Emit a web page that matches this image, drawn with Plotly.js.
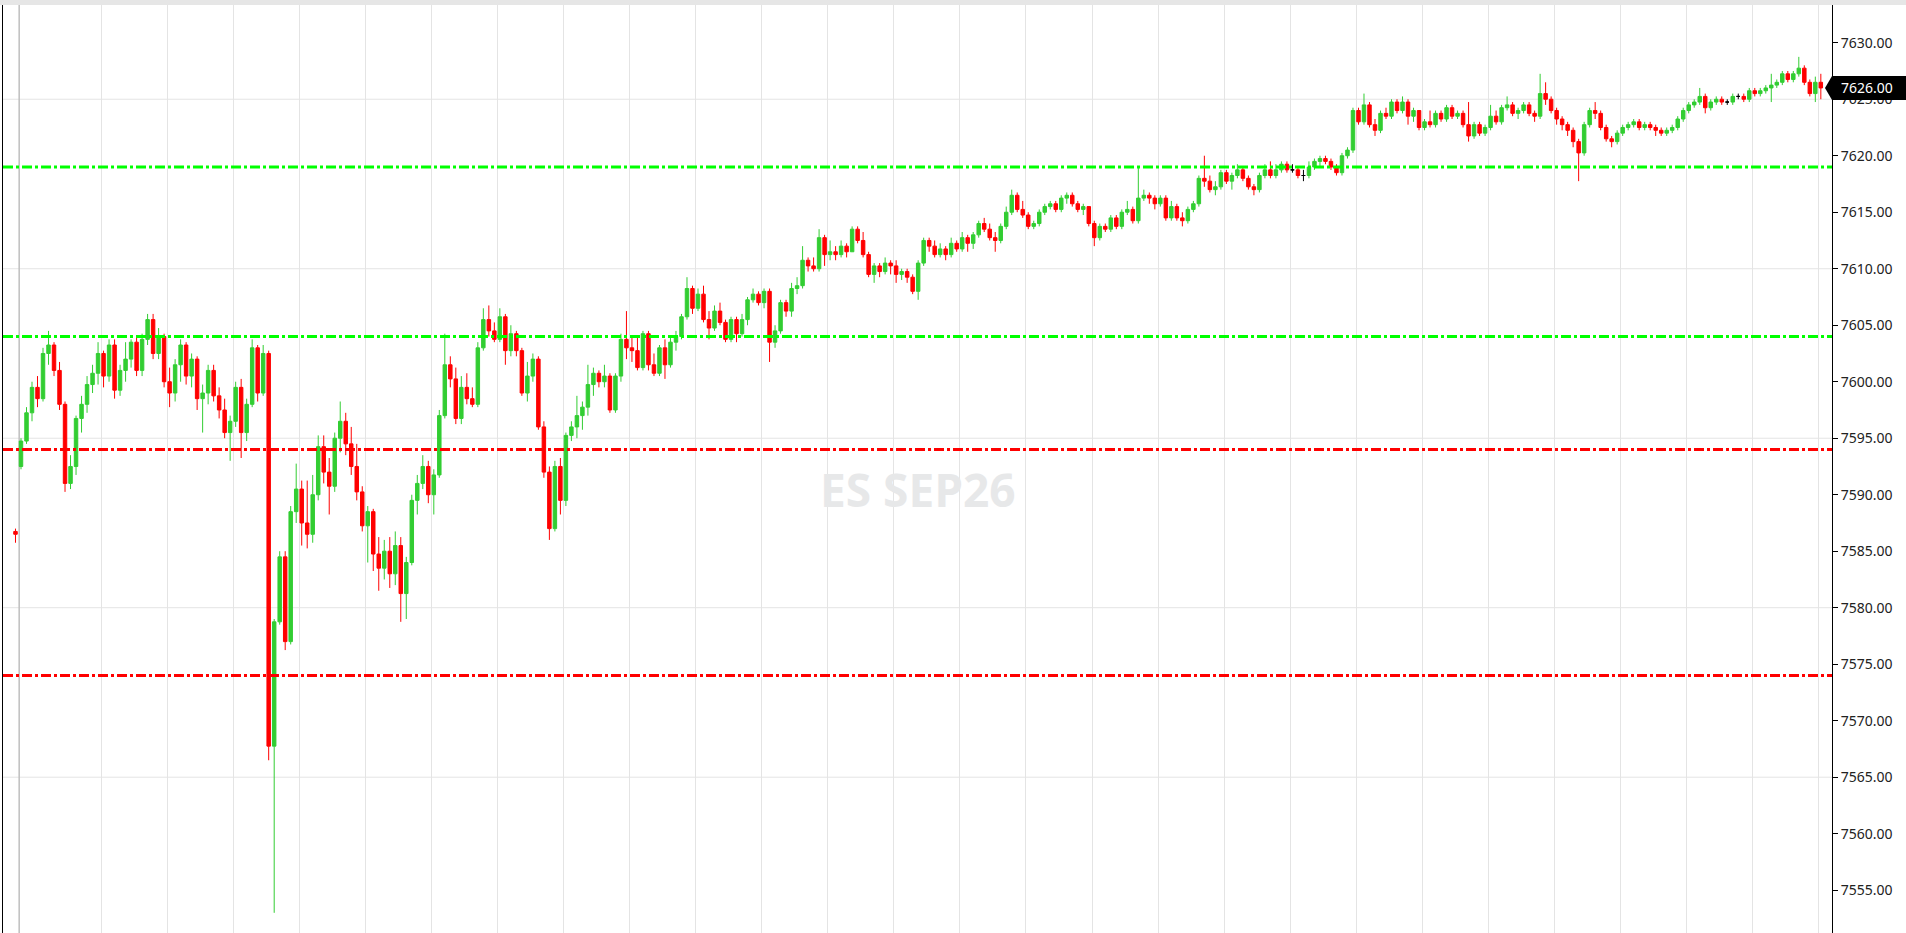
<!DOCTYPE html>
<html><head><meta charset="utf-8">
<script src="https://cdn.plot.ly/plotly-3.0.1.min.js"></script>
<style>
html,body{margin:0;padding:0;overflow:hidden;background:#fff;width:1906px;height:933px;}
#band{position:absolute;left:0;top:0;width:1906px;height:5px;background:#e6e6e6;}
#chart{position:absolute;left:0;top:5px;width:1906px;height:940px;}
</style></head><body>
<div id="band"></div><div id="chart"></div>
<script>
// ES SEP26 intraday candles (first bar = last bar of the prior session)
const symbol = 'ES SEP26';
const opens = [7586.75,
7592.5,7594.75,7597.25,7599.5,7598.5,7602.5,7603.25,7601,7598,7591,
7592.5,7596.75,7598,7599.75,7600.75,7602.5,7600.5,7603.25,7599.25,7601,
7602,7603.5,7601,7603.75,7605.5,7602.5,7604,7600,7599,7601.5,
7603.25,7600.5,7602,7598.5,7599,7601,7598.75,7597.5,7595.5,7596.5,
7599.5,7595.5,7598,7603,7599,7602.5,7567.75,7578.75,7584.5,7577,
7588.5,7590.5,7587.5,7586.5,7590,7594.25,7592,7590.75,7595,7596.5,
7594.5,7592.5,7590.25,7587.25,7588.5,7584.75,7583.5,7585,7583,7585.5,
7581.25,7584,7589.5,7591,7592.5,7590,7591.75,7597,7601.5,7600.25,
7596.75,7599.5,7598.5,7598,7603,7605.5,7604.5,7603.75,7605.75,7602.75,
7604.25,7602.75,7599,7600.5,7602,7596,7592,7587,7592.5,7589.5,
7595.25,7596,7597,7597.75,7599.75,7600.75,7600,7600.5,7597.5,7600.5,
7603.75,7603,7602.75,7601.25,7604.25,7601.5,7600.75,7603,7601.5,7603.5,
7604,7605.75,7608.25,7606.5,7607.75,7605.5,7604.75,7606.25,7605.25,7603.75,
7605.5,7604.25,7605.5,7607.25,7607.75,7607,7608,7603.5,7604.5,7607,
7606.25,7608.25,7608.5,7610.75,7610.25,7610,7612.75,7611.25,7611.5,7611.25,
7612,7611.5,7613.5,7612.5,7611.25,7609.5,7610.25,7609.75,7610.5,7610.25,
7609.5,7609.75,7609.25,7608,7610.5,7612.5,7612,7611.25,7611.75,7611.25,
7612.25,7611.75,7612.75,7612.25,7613,7614,7613.5,7612.75,7612.5,7613.75,
7615,7616.5,7615.25,7614.75,7613.75,7614,7615,7615.5,7615.75,7615.25,
7616.25,7616.5,7615.75,7615.25,7615.5,7614,7612.75,7613.75,7613.5,7614.5,
7613.75,7615,7615.25,7614.25,7616.25,7616.5,7616.25,7615.75,7616.25,7614.5,
7615.5,7614.5,7614.25,7615.25,7615.75,7618,7617.75,7617,7617.25,7618.5,
7617.75,7618.25,7618.75,7618,7617.25,7617,7618.25,7618.75,7618.25,7618.75,
7619.25,7618.75,7618.75,7618.25,7618.25,7619,7619.5,7619.75,7619.5,7619,
7618.5,7620,7620.5,7624,7623,7624.5,7622.75,7622.25,7623.75,7623.5,
7624.75,7624,7624.75,7623.5,7624,7622.5,7623,7622.75,7623.75,7623.25,
7624.25,7623.5,7623.75,7622.75,7621.75,7622.75,7622,7622.5,7623.5,7623,
7624.25,7624.5,7623.75,7624,7624.5,7623.75,7623.5,7625.5,7625,7624,
7623.25,7622.75,7622.25,7621.25,7620.25,7622.75,7624,7623.75,7622.5,7621.5,
7621.25,7622,7622.5,7622.75,7623,7622.5,7622.75,7622.5,7622.25,7622,
7622.25,7622.5,7623.25,7624,7624.5,7624.75,7625.25,7624.25,7624.75,7625,
7624.75,7624.75,7625.25,7625.25,7625,7625.75,7625.5,7625.75,7626,7626.25,
7626.5,7627.25,7626.75,7627.25,7627.75,7626.5,7625.5,7626.5];
const highs = [7587,
7595,7597.75,7600,7600.5,7603,7604.5,7603.5,7601.75,7598.25,7593.5,
7597,7598.75,7600.5,7601.5,7603.5,7602.75,7603.75,7603.75,7601.5,7603.5,
7603.75,7604,7604.25,7606,7606,7604.75,7604.25,7601.25,7602,7603.75,
7603.5,7602.5,7602.25,7599.75,7601.5,7601.5,7599.5,7598.5,7597,7600,
7600.25,7598.5,7603.75,7603.25,7603.25,7602.75,7579,7585,7585,7589,
7592.75,7591.25,7591.25,7591.75,7595.25,7595.25,7593.25,7595.5,7598.25,7597.25,
7596,7594.5,7590.75,7589,7588.75,7586.25,7586,7586.25,7586.75,7586.25,
7584.5,7590,7591.75,7593.5,7593,7592.25,7597.5,7604.25,7602.25,7601.25,
7600.5,7600.75,7599.5,7603.5,7606.5,7606.75,7605.25,7606.5,7606,7605,
7604.5,7603,7601.75,7602.5,7602.25,7596.5,7592.5,7593,7593.25,7595.5,
7596.5,7598.75,7598.25,7601.5,7601.25,7601,7601.5,7600.75,7600.75,7604.25,
7606.25,7604,7604,7604.5,7604.5,7602.5,7603.25,7603.75,7604,7604.5,
7606,7609.25,7608.5,7608.25,7608.5,7606.25,7606.75,7607,7605.5,7605.75,
7605.75,7606,7607.5,7608.25,7608,7608.25,7608.25,7605,7607.25,7607.25,
7608.75,7609.25,7612,7611,7611,7613.5,7613,7612.5,7612,7612.5,
7612.25,7613.75,7613.75,7613.25,7611.5,7610.5,7610.5,7611,7610.75,7610.75,
7610,7610,7609.5,7610.75,7612.75,7612.75,7612.5,7612.25,7612,7612.75,
7612.5,7613.25,7613,7613.25,7614.25,7614.5,7614,7613.25,7614,7615.5,
7617,7616.75,7616,7615,7614.25,7615.25,7615.75,7616,7616,7616.5,
7616.75,7616.75,7616,7615.75,7615.5,7614.25,7614,7614,7614.75,7614.75,
7615.25,7616,7615.5,7619,7617,7616.75,7616.5,7616.5,7616.5,7616,
7615.75,7615,7615.5,7616,7618.25,7620,7618.25,7617.75,7618.75,7618.75,
7618.5,7619.25,7619,7618.25,7617.5,7618.5,7619.25,7619.5,7619.25,7619.5,
7619.5,7619.25,7619,7618.75,7619.5,7619.75,7620,7620,7619.75,7619.25,
7620.25,7620.75,7624.25,7624.25,7625.5,7624.75,7623.25,7624,7624.25,7625,
7625,7625.25,7625,7624.25,7624,7623.25,7624,7624,7624,7624.5,
7624.5,7624,7624,7624.75,7623,7623,7622.75,7624.5,7624,7624.5,
7625.25,7624.75,7624.25,7624.75,7624.75,7624,7627.25,7626.5,7625.25,7624.25,
7623.5,7623,7622.5,7621.5,7623,7624.25,7624.75,7624,7622.75,7621.75,
7622.25,7622.75,7623,7623.25,7623.25,7623,7623,7622.75,7622.5,7622.5,
7622.75,7623.5,7624.25,7624.75,7625,7626,7625.5,7625,7625.25,7625.25,
7625,7625.5,7625.5,7625.5,7626,7626,7626,7626.25,7627.25,7626.75,
7627.5,7627.5,7627.5,7628.75,7628,7626.75,7627,7627.25];
const lows = [7585.75,
7592.25,7594.5,7596.5,7597.75,7598.25,7601.5,7600.5,7597.5,7590.25,7590.5,
7591.75,7595.5,7597.25,7599,7599.75,7599.5,7600,7598.5,7598.75,7600,
7601.25,7600.5,7600.5,7603.25,7602,7602,7599.5,7597.75,7598.25,7600,
7599.75,7599.5,7597.5,7595.5,7598,7598.25,7596.75,7595,7593,7596,
7593.25,7594.75,7597.75,7598.25,7598.75,7566.5,7553,7578.5,7576.25,7576.75,
7587.5,7585.5,7585.25,7585.75,7589.5,7591,7588.25,7590.25,7593.75,7593.5,
7591.75,7589.5,7586.75,7584,7583.25,7581.5,7582.5,7581.75,7582,7578.75,
7579,7583.75,7588.25,7590.5,7589.25,7588.25,7591.5,7596.75,7599.5,7596.25,
7596.25,7598,7597.75,7597.75,7602.75,7604,7603.5,7603.5,7601.5,7602.25,
7602.25,7598.75,7598.25,7600,7595.75,7591.5,7586,7586.75,7588.25,7589,
7594.75,7595,7595.75,7597,7598.75,7599.5,7599.5,7597.25,7597.25,7600,
7602,7601.75,7601,7601,7601,7600.5,7600.5,7600.25,7601.25,7602.75,
7603.75,7605.5,7606,7606.25,7605.25,7603.75,7604.5,7605,7603.5,7603.5,
7603.5,7604,7605,7607,7606.75,7606.5,7601.75,7603,7604.25,7605.75,
7605.75,7607.75,7608.25,7609.75,7609.75,7609.75,7610.25,7610.75,7610.75,7611,
7611,7611.5,7612.25,7611,7609.25,7608.75,7609.25,7609.5,7609.5,7608.75,
7609,7608.75,7607.75,7607.25,7610.25,7611.5,7611,7611,7610.75,7611,
7611.5,7611.5,7611.5,7611.75,7612.75,7613.25,7612.5,7611.5,7612.25,7613.5,
7614.75,7615,7614.5,7613.5,7613.5,7613.75,7614.75,7615.25,7615,7615,
7615.75,7615.5,7615,7614.75,7613.75,7612,7612.5,7613.25,7613.25,7613.5,
7613.5,7614.75,7614,7614,7616,7615.75,7615.25,7615.5,7614.25,7614.25,
7614.25,7613.75,7614,7615,7615.5,7617.25,7616.75,7616.5,7617,7617.5,
7617,7618,7617.75,7617,7616.5,7616.75,7618,7618,7618,7618.5,
7618.5,7618.5,7618,7617.75,7618,7618.75,7619,7619.25,7618.75,7618.25,
7618.25,7619.75,7620.25,7622.75,7622.75,7622.5,7621.75,7622,7623.25,7623.25,
7623.75,7623.75,7622.75,7623,7622.25,7622.25,7622.5,7622.5,7623,7623,
7623.25,7623.25,7622.5,7621.25,7621.5,7621.75,7621.75,7622.25,7622.75,7622.75,
7624,7623.5,7623.25,7623.75,7623.5,7623,7623.25,7624.5,7623.75,7622.75,
7622.25,7621.75,7620.75,7617.75,7620,7622.5,7623.25,7622.25,7621.25,7620.75,
7621,7621.75,7622.25,7622.5,7622.25,7622.25,7622.25,7621.75,7621.75,7621.75,
7622,7622.25,7623,7623.75,7624.25,7624.5,7623.75,7624,7624.5,7624.5,
7624.5,7624.5,7625,7624.75,7624.75,7625.25,7625.25,7625.5,7624.75,7626,
7626.25,7626.5,7626.5,7627,7626.25,7625.25,7624.75,7625];
const closes = [7586.5,
7594.75,7597.25,7599.5,7598.5,7602.5,7603.25,7601,7598,7591,7592.5,
7596.75,7598,7599.75,7600.75,7602.5,7600.5,7603.25,7599.25,7601,7602,
7603.5,7601,7603.75,7605.5,7602.5,7604,7600,7599,7601.5,7603.25,
7600.5,7602,7598.5,7599,7601,7598.75,7597.5,7595.5,7596.5,7599.5,
7595.5,7598,7603,7599,7602.5,7567.75,7578.75,7584.5,7577,7588.5,
7590.5,7587.5,7586.5,7590,7594.25,7592,7590.75,7595,7596.5,7594.5,
7592.5,7590.25,7587.25,7588.5,7584.75,7583.5,7585,7583,7585.5,7581.25,
7584,7589.5,7591,7592.5,7590,7591.75,7597,7601.5,7600.25,7596.75,
7599.5,7598.5,7598,7603,7605.5,7604.5,7603.75,7605.75,7602.75,7604.25,
7602.75,7599,7600.5,7602,7596,7592,7587,7592.5,7589.5,7595.25,
7596,7597,7597.75,7599.75,7600.75,7600,7600.5,7597.5,7600.5,7603.75,
7603,7602.75,7601.25,7604.25,7601.5,7600.75,7603,7601.5,7603.5,7604,
7605.75,7608.25,7606.5,7607.75,7605.5,7604.75,7606.25,7605.25,7603.75,7605.5,
7604.25,7605.5,7607.25,7607.75,7607,7608,7603.5,7604.5,7607,7606.25,
7608.25,7608.5,7610.75,7610.25,7610,7612.75,7611.25,7611.5,7611.25,7612,
7611.5,7613.5,7612.5,7611.25,7609.5,7610.25,7609.75,7610.5,7610.25,7609.5,
7609.75,7609.25,7608,7610.5,7612.5,7612,7611.25,7611.75,7611.25,7612.25,
7611.75,7612.75,7612.25,7613,7614,7613.5,7612.75,7612.5,7613.75,7615,
7616.5,7615.25,7614.75,7613.75,7614,7615,7615.5,7615.75,7615.25,7616.25,
7616.5,7615.75,7615.25,7615.5,7614,7612.75,7613.75,7613.5,7614.5,7613.75,
7615,7615.25,7614.25,7616.25,7616.5,7616.25,7615.75,7616.25,7614.5,7615.5,
7614.5,7614.25,7615.25,7615.75,7618,7617.75,7617,7617.25,7618.5,7617.75,
7618.25,7618.75,7618,7617.25,7617,7618.25,7618.75,7618.25,7618.75,7619.25,
7618.75,7618.75,7618.25,7618.25,7619,7619.5,7619.75,7619.5,7619,7618.5,
7620,7620.5,7624,7623,7624.5,7622.75,7622.25,7623.75,7623.5,7624.75,
7624,7624.75,7623.5,7624,7622.5,7623,7622.75,7623.75,7623.25,7624.25,
7623.5,7623.75,7622.75,7621.75,7622.75,7622,7622.5,7623.5,7623,7624.25,
7624.5,7623.75,7624,7624.5,7623.75,7623.5,7625.5,7625,7624,7623.25,
7622.75,7622.25,7621.25,7620.25,7622.75,7624,7623.75,7622.5,7621.5,7621.25,
7622,7622.5,7622.75,7623,7622.5,7622.75,7622.5,7622.25,7622,7622.25,
7622.5,7623.25,7624,7624.5,7624.75,7625.25,7624.25,7624.75,7625,7624.75,
7624.75,7625.25,7625.25,7625,7625.75,7625.5,7625.75,7626,7626.25,7626.5,
7627.25,7626.75,7627.25,7627.75,7626.5,7625.5,7626.5,7626];

// Key levels
const greenLevels = [7619, 7604];
const redLevels = [7594, 7574];
// Axis settings
const yRange = [7550.15, 7633.34];
const xRange = [-3.27, 329.03];
const yTickStep = 5;
const hGridLevels = [7565, 7580, 7595, 7610, 7625];
const vGridStart = 14.59, vGridStep = 12;
const sessionBreak = -0.33;

const UP = '#32cd32', DOWN = '#ff0000', FLAT = '#000000';

function subset(pred) {
  const s = {x: [], open: [], high: [], low: [], close: []};
  for (let k = 0; k < closes.length; k++) {
    if (pred(opens[k], closes[k])) {
      s.x.push(k - 1);
      s.open.push(opens[k]); s.high.push(highs[k]);
      s.low.push(lows[k]); s.close.push(closes[k]);
    }
  }
  return s;
}
function candleTrace(s, color) {
  return Object.assign({
    type: 'candlestick', whiskerwidth: 0, hoverinfo: 'skip', showlegend: false,
    increasing: {line: {color: color, width: 1}, fillcolor: color},
    decreasing: {line: {color: color, width: 1}, fillcolor: color}
  }, s);
}
const traces = [
  candleTrace(subset((o, c) => c > o), UP),
  candleTrace(subset((o, c) => c < o), DOWN),
  candleTrace(subset((o, c) => c === o), FLAT)
];

const vGridVals = [];
for (let v = vGridStart; v <= xRange[1]; v += vGridStep) vGridVals.push(v);

const W = 1906, H = 940, ML = 3, MR = 74;
const plotW = W - ML - MR;
const pxToPaper = px => (px - ML) / plotW;
const unitsPerPx = (yRange[1] - yRange[0]) / H;
const last = closes[closes.length - 1];
const halfH = 12 * unitsPerPx;
const xTip = pxToPaper(1825), xBody = pxToPaper(1832), xEnd = pxToPaper(1906);
const DASH = '10px,3px,3px,3px';

const shapes = [];
hGridLevels.forEach(v => shapes.push({type: 'line', layer: 'below', xref: 'paper', x0: 0, x1: 1, yref: 'y', y0: v, y1: v, line: {color: '#e4e4e4', width: 1}}));
shapes.push({type: 'line', layer: 'below', xref: 'x', x0: sessionBreak, x1: sessionBreak, yref: 'paper', y0: 0, y1: 1, line: {color: '#bfbfbf', width: 1.5}});
greenLevels.forEach(v => shapes.push({type: 'line', xref: 'paper', x0: 0, x1: 1, yref: 'y', y0: v, y1: v, line: {color: '#00ff00', width: 3, dash: DASH}}));
redLevels.forEach(v => shapes.push({type: 'line', xref: 'paper', x0: 0, x1: 1, yref: 'y', y0: v, y1: v, line: {color: '#ff0000', width: 3, dash: DASH}}));
shapes.push({type: 'path', xref: 'paper', yref: 'y', fillcolor: '#000', line: {width: 0},
  path: `M ${xTip},${last} L ${xBody},${last + halfH} L ${xEnd},${last + halfH} L ${xEnd},${last - halfH} L ${xBody},${last - halfH} Z`});

const layout = {
  width: W, height: H,
  margin: {l: ML, r: MR, t: 0, b: 0, pad: 0},
  paper_bgcolor: '#ffffff', plot_bgcolor: '#ffffff',
  showlegend: false, hovermode: false, dragmode: false,
  boxgap: 0.1,
  font: {family: 'Noto Sans, Open Sans, sans-serif'},
  xaxis: {type: 'linear', range: xRange, tickmode: 'array', tickvals: vGridVals,
    showgrid: true, gridcolor: '#e4e4e4', gridwidth: 1, showticklabels: false, ticks: '',
    zeroline: false, showline: true, linecolor: '#000', linewidth: 1, mirror: true,
    rangeslider: {visible: false}, fixedrange: true},
  yaxis: {side: 'right', range: yRange, tickmode: 'linear', tick0: 7555, dtick: yTickStep,
    tickformat: '.2f', ticks: 'outside', ticklen: 5, tickcolor: '#000', tickwidth: 1,
    showgrid: false, zeroline: false, showline: true, linecolor: '#000', linewidth: 1, mirror: true,
    tickfont: {family: 'Noto Sans, sans-serif', size: 14, color: '#222'}, fixedrange: true},
  shapes: shapes,
  annotations: [
    {xref: 'paper', yref: 'paper', x: 0.5, y: (945 - 489) / H, xanchor: 'center', yanchor: 'middle',
      text: '<b>' + symbol + '</b>', showarrow: false,
      font: {family: 'Open Sans, sans-serif', size: 46, color: '#e7e8e9'}},
    {xref: 'paper', yref: 'y', x: pxToPaper(1867), y: last, xanchor: 'center', yanchor: 'middle',
      text: last.toFixed(2), showarrow: false,
      font: {family: 'Noto Sans, sans-serif', size: 14, color: '#ffffff'}}
  ]
};

Plotly.newPlot('chart', traces, layout, {staticPlot: true, displayModeBar: false});
</script>
</body></html>
